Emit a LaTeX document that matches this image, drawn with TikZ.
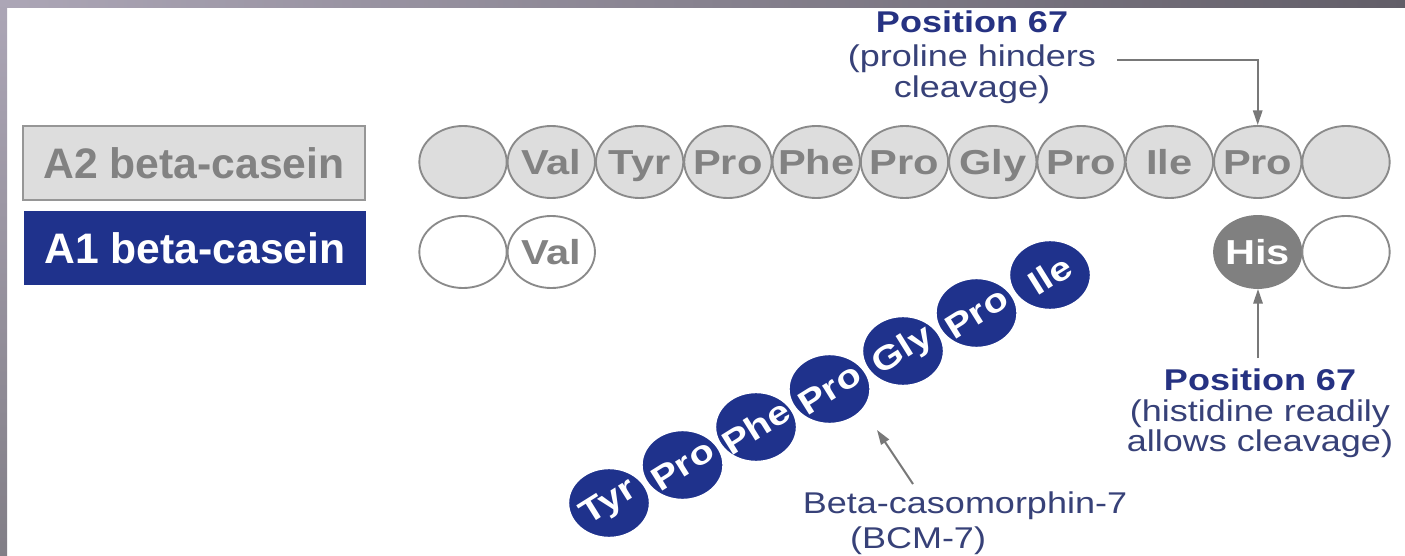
\documentclass[tikz,border=0pt]{standalone}
\usepackage{fontspec}
\setmainfont{Liberation Sans}
\newfontfamily\wide[FakeStretch=1.2]{Liberation Sans}
\usetikzlibrary{arrows.meta,shapes.geometric,calc}

\definecolor{navy}{RGB}{31,50,140}
\definecolor{navytext}{RGB}{38,50,130}
\definecolor{slatetext}{RGB}{55,65,120}
\definecolor{beadgray}{RGB}{221,221,221}
\definecolor{beadline}{RGB}{138,138,138}
\definecolor{beadtext}{RGB}{130,130,130}
\definecolor{hisgray}{RGB}{128,128,128}
\definecolor{arrowgray}{RGB}{120,120,120}
\definecolor{bandleft}{RGB}{172,166,182}
\definecolor{bandright}{RGB}{98,94,104}

% centred label of zero size, so that a bead keeps its own size
\newcommand{\amino}[1]{\makebox[0pt]{\smash{\raisebox{-.36em}{#1}}}}

\tikzset{
  bead/.style={ellipse, minimum width=65.5pt, minimum height=54pt, inner sep=0pt,
    line width=1.4pt, draw=beadline,
    font=\wide\bfseries\fontsize{26pt}{28pt}\selectfont},
  beadA2/.style={bead, fill=beadgray, text=beadtext},
  beadA1/.style={bead, fill=white},
  beadHis/.style={bead, fill=hisgray, draw=hisgray, text=white},
  beadBCM/.style={ellipse, minimum width=61pt, minimum height=52pt, inner sep=0pt,
    fill=navy, draw=white, line width=1.3pt},
  bcmlabel/.style={inner sep=0pt, rotate=32, text=white,
    font=\wide\bfseries\fontsize{25pt}{28pt}\selectfont},
  caseinbox/.style={rectangle, minimum width=256.5pt, minimum height=55.5pt,
    inner sep=0pt, font=\bfseries\fontsize{32pt}{36pt}\selectfont},
  headline/.style={anchor=base, inner sep=0pt, text=navytext,
    font=\wide\bfseries\fontsize{22.5pt}{26pt}\selectfont},
  note/.style={anchor=base, inner sep=0pt, text=slatetext,
    font=\wide\fontsize{22.5pt}{26pt}\selectfont},
  pointer/.style={draw=arrowgray, line width=1.5pt,
    -{Triangle[length=11pt,width=7pt]}},
}

\begin{document}
\begin{tikzpicture}[x=0.75pt,y=-0.75pt]
\useasboundingbox (0,0) rectangle (1405,556);
\fill[white] (0,0) rectangle (1405,556);

% slide frame: title band and left strip
\shade[left color=bandleft, right color=bandright] (0,0) rectangle (1405,8);
\shade[top color=bandleft, bottom color=bandright!80!white] (0,0) rectangle (7,556);

% variant labels
\node[caseinbox, fill=beadgray, draw=beadline!90!white, line width=1.5pt, text=beadtext]
  (a2box) at (194,163) {A2 beta-casein};
\node[caseinbox, fill=navy, text=white] (a1box) at (195,248) {A1 beta-casein};

% A2 chain
\foreach \t [count=\i from 0] in {{},Val,Tyr,Pro,Phe,Pro,Gly,Pro,Ile,Pro,{}} {
  \node[beadA2] (a2-\i) at ({463+88.3*\i},162) {\amino{\t}};
}

% A1 chain (remaining residues)
\node[beadA1] (a1-0) at (463,252) {};
\node[beadA1] (a1-1) at ({463+88.3},252) {\amino{\textcolor{beadtext}{Val}}};
\node[beadHis] (a1-9) at ({463+88.3*9},252) {\amino{His}};
\node[beadA1] (a1-10) at ({463+88.3*10},252) {};

% released peptide BCM-7
\foreach \t [count=\i from 0] in {Tyr,Pro,Phe,Pro,Gly,Pro,Ile} {
  \node[beadBCM] (b-\i) at ({609+73.5*\i},{503-38*\i}) {};
  \node[bcmlabel] (bt-\i) at (b-\i) {\t};
}

% position 67, A2
\node[headline] (p67a) at (972,33) {Position 67};
\node[note] (p67b) at (972,67) {(proline hinders};
\node[note] (p67c) at (972,98) {cleavage)};
\coordinate (p67tail) at (1117,60);
\draw[pointer] (p67tail) -| (a2-9.north);

% position 67, A1
\node[headline] (h67a) at (1260,390) {Position 67};
\node[note] (h67b) at (1260,421) {(histidine readily};
\node[note] (h67c) at (1260,451) {allows cleavage)};
\coordinate (h67tail) at (1258,358);
\draw[pointer] (h67tail) -- (h67tail |- a1-9.south);

% BCM-7 caption
\node[note] (bcma) at (965,513) {Beta-casomorphin-7};
\node[note] (bcmb) at (918,548) {(BCM-7)};
\coordinate (bcmtail) at (913,484);
\coordinate (bcmtip) at (877,430);
\draw[pointer] (bcmtail) -- (bcmtip);
\end{tikzpicture}
\end{document}
